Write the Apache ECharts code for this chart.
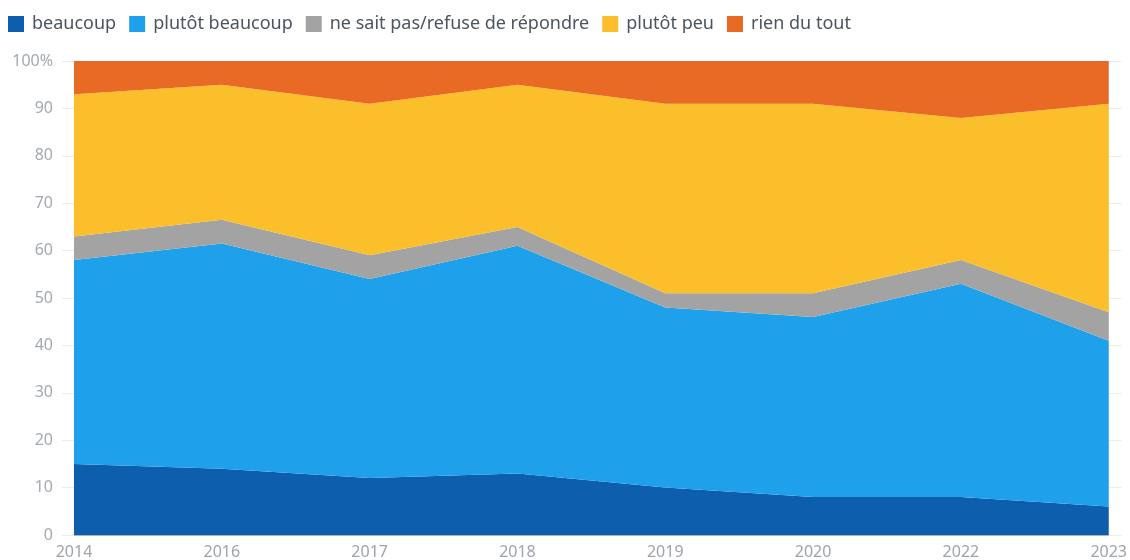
<!DOCTYPE html>
<html><head><meta charset="utf-8">
<script src="https://cdn.jsdelivr.net/npm/echarts@6/dist/echarts.min.js"></script>
<style>html,body{margin:0;padding:0;background:#fff}#c{width:1130px;height:560px}</style>
</head><body><div id="c"></div>
<script>
const years = ['2014','2016','2017','2018','2019','2020','2022','2023'];
const seriesNames = ['beaucoup','plutôt beaucoup','ne sait pas/refuse de répondre','plutôt peu','rien du tout'];
const beaucoup = [15, 14, 12, 13, 10, 8, 8, 6];
const plutotBeaucoup = [43, 47.5, 42, 48, 38, 38, 45, 35];
const nsp = [5, 5, 5, 4, 3, 5, 5, 6];
const plutotPeu = [30, 28.5, 32, 30, 40, 40, 30, 44];
const rien = [7, 5, 9, 5, 9, 9, 12, 9];

const colors = ['#0d5fad','#1ea1ea','#a3a3a3','#fabf2a','#e86a24'];
const values = [beaucoup, plutotBeaucoup, nsp, plutotPeu, rien];
const font = 'Noto Sans';
const chart = echarts.init(document.getElementById('c'), null, {renderer:'canvas'});
chart.setOption({
  animation:false,
  color: colors,
  legend:{
    left:3, top:10, itemWidth:16, itemHeight:16, itemGap:13,
    icon:'rect',
    textStyle:{fontFamily:font, fontSize:18, color:'#4a5560', padding:[0,0,0,3]},
    data: seriesNames
  },
  grid:{left:74, right:20, top:61, bottom:21},
  xAxis:{
    type:'category', data:years, boundaryGap:false,
    axisLine:{show:true, lineStyle:{color:'#9aa0a6', width:1.5}},
    axisTick:{show:false},
    axisLabel:{fontFamily:font, fontSize:16, color:'#9ea4aa', margin:9},
    splitLine:{show:false}
  },
  yAxis:[{
    type:'value', min:0, max:100, interval:10,
    axisLine:{show:true, lineStyle:{color:'#e2e2e2'}},
    axisTick:{show:true, length:12, lineStyle:{color:'#ececec'}},
    axisLabel:{fontFamily:font, fontSize:16, color:'#a4aab0', margin:21,
      formatter:v=> v===100 ? '100%' : String(v)},
    splitLine:{show:true, lineStyle:{color:'#ececec'}}
  },{
    type:'value', min:0, max:100, interval:10, position:'right',
    axisLine:{show:true, lineStyle:{color:'#e2e2e2'}},
    axisTick:{show:true, length:13, lineStyle:{color:'#ececec'}},
    axisLabel:{show:false}, splitLine:{show:false}
  }],
  series: seriesNames.map((n,i)=>({
    name:n, type:'line', stack:'total', data:values[i],
    symbol:'none', lineStyle:{width:0},
    areaStyle:{color:colors[i], opacity:1},
    itemStyle:{color:colors[i]}
  }))
});
</script></body></html>
